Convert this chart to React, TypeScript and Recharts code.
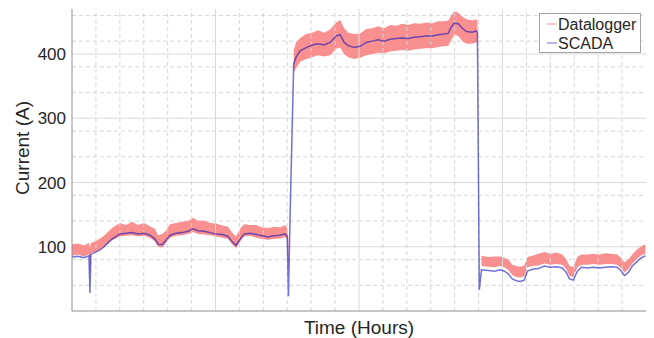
import React from 'react';
import { ComposedChart, Area, Line, XAxis, YAxis, CartesianGrid, ReferenceLine, Label } from 'recharts';

const FONT = '"Liberation Sans", Arial, Helvetica, sans-serif';

// time in hours
const hours = [
  0, 0.25, 0.5, 0.71, 0.75, 0.79, 1.0, 1.17, 1.34, 1.5,
  1.67, 1.84, 2.0, 2.26, 2.51, 2.76, 3.01, 3.26, 3.47, 3.6,
  3.77, 3.93, 4.1, 4.35, 4.6, 4.85, 5.06, 5.27, 5.52, 5.77,
  6.03, 6.28, 6.53, 6.69, 6.86, 7.03, 7.2, 7.45, 7.7, 7.95,
  8.2, 8.45, 8.7, 8.91, 9.0, 9.05, 9.12, 9.27, 9.37, 9.54,
  9.79, 10.04, 10.29, 10.54, 10.79, 11.05, 11.21, 11.38, 11.55, 11.8,
  12.05, 12.3, 12.55, 12.8, 13.05, 13.3, 13.56, 13.81, 14.06, 14.31,
  14.56, 14.81, 15.06, 15.31, 15.56, 15.73, 15.86, 15.98, 16.15, 16.32,
  16.49, 16.74, 16.9, 16.95, 17.03, 17.12, 17.41, 17.66, 17.91, 18.08,
  18.24, 18.41, 18.58, 18.74, 18.91, 19.04, 19.25, 19.5, 19.75, 20.0,
  20.25, 20.5, 20.67, 20.8, 20.96, 21.13, 21.3, 21.55, 21.8, 22.05,
  22.3, 22.55, 22.8, 22.97, 23.1, 23.26, 23.43, 23.6, 23.77, 23.97,
];

// SCADA current (A)
const scada = [
  84, 85, 83, 86, 28, 88, 92, 95, 100, 106,
  112, 116, 120, 121, 122, 120, 121, 118, 112, 104,
  103, 110, 118, 121, 122, 124, 128, 125, 124, 122,
  120, 119, 116, 108, 102, 112, 120, 121, 119, 117,
  115, 117, 118, 120, 116, 23, 150, 385, 395, 405,
  410, 414, 416, 414, 418, 428, 430, 418, 413, 410,
  412, 418, 420, 422, 420, 423, 424, 425, 424, 426,
  427, 428, 428, 430, 431, 432, 442, 448, 447, 440,
  435, 434, 436, 434, 33, 64, 63, 62, 64, 62,
  58, 50, 47, 46, 48, 62, 65, 66, 70, 68,
  69, 67, 60, 50, 48, 62, 68, 67, 68, 67,
  68, 69, 68, 62, 55, 60, 70, 76, 82, 86,
];

// Datalogger envelope (min / max of the fast samples)
const dlLow = [
  86, 88, 85, 88, 50, 90, 93, 96, 100, 105,
  110, 113, 116, 117, 118, 116, 117, 114, 108, 100,
  99, 106, 114, 117, 118, 120, 123, 120, 119, 118,
  116, 114, 112, 104, 98, 108, 116, 117, 114, 112,
  111, 112, 113, 115, 110, 60, null, 372, 378, 388,
  392, 395, 398, 396, 398, 408, 410, 400, 395, 392,
  394, 398, 400, 402, 401, 404, 405, 406, 405, 407,
  408, 409, 409, 411, 412, 413, 422, 430, 428, 420,
  416, 416, 418, 418, null, 70, 69, 68, 70, 68,
  64, 56, 53, 52, 54, 68, 70, 71, 74, 72,
  73, 72, 65, 55, 53, 68, 72, 72, 73, 72,
  73, 73, 72, 66, 60, 65, 74, 80, 86, 89,
];

const dlHigh = [
  104, 105, 102, 106, 98, 106, 109, 113, 117, 123,
  129, 133, 137, 134, 139, 134, 137, 132, 128, 118,
  120, 125, 135, 137, 139, 140, 145, 140, 141, 137,
  136, 133, 131, 122, 116, 128, 135, 134, 134, 130,
  129, 131, 130, 134, 128, 112, null, 406, 418, 425,
  431, 433, 437, 433, 438, 449, 453, 440, 433, 431,
  432, 439, 440, 443, 440, 445, 444, 447, 445, 448,
  447, 449, 448, 451, 451, 452, 460, 466, 464, 458,
  454, 452, 454, 452, null, 86, 84, 85, 85, 83,
  80, 72, 70, 69, 71, 84, 86, 89, 92, 89,
  91, 88, 80, 70, 69, 84, 88, 88, 89, 88,
  90, 89, 88, 82, 76, 80, 88, 95, 100, 104,
];

const yTicks = [100, 200, 300, 400];
const yMinor = [20, 40, 60, 80, 120, 140, 160, 180, 220, 240, 260, 280, 320, 340, 360, 380, 420, 440, 460];
const xMajor = [6, 12, 18];
const xMinor = [1, 2, 3, 4, 5, 7, 8, 9, 10, 11, 13, 14, 15, 16, 17, 19, 20, 21, 22, 23];

const seriesNames = ['Datalogger', 'SCADA'];

const BAND = '#f98686';
const SCADA_COLOR = '#1414be';

export default function App() {
  const data = hours.map((h, i) => ({
    h,
    scada: scada[i],
    band: dlLow[i] == null ? null : [dlLow[i], dlHigh[i]],
  }));

  return (
    <div style={{ position: 'absolute', left: 0, top: 0, width: 654, height: 338, background: '#fff', fontFamily: FONT }}>
      <ComposedChart width={654} height={338} data={data} margin={{ top: 9, right: 8, bottom: 0, left: 0 }}>
        <CartesianGrid
          horizontalValues={yMinor}
          vertical={false}
          stroke="#d6d6d6"
          strokeDasharray="4 3"
          fill="none"
        />
        <CartesianGrid
          horizontalValues={yTicks}
          vertical={false}
          stroke="#dadada"
          fill="none"
        />
        {xMinor.map((v) => (
          <ReferenceLine key={'xm' + v} x={v} stroke="#d6d6d6" strokeDasharray="4 3" />
        ))}
        {xMajor.map((v) => (
          <ReferenceLine key={'xM' + v} x={v} stroke="#dadada" />
        ))}
        <XAxis
          type="number"
          dataKey="h"
          domain={[0, 24]}
          ticks={xMajor}
          tick={false}
          tickLine={false}
          height={27}
          axisLine={{ stroke: '#8f8f8f' }}
        >
          <Label
            content={(p: any) => {
              const vb = p.viewBox;
              return (
                <text x={vb.x + vb.width / 2} y={vb.y + 23} textAnchor="middle" fontSize={19} fill="#262626" fontFamily={FONT}>
                  Time (Hours)
                </text>
              );
            }}
          />
        </XAxis>
        <YAxis
          type="number"
          domain={[0, 470]}
          ticks={yTicks}
          width={72}
          tickLine={false}
          tickSize={0}
          tickMargin={6}
          axisLine={{ stroke: '#8f8f8f' }}
          tick={{ fontSize: 17, fill: '#262626', fontFamily: FONT }}
        >
          <Label
            content={(p: any) => {
              const vb = p.viewBox;
              const cx = vb.x + 22;
              const cy = vb.y + vb.height / 2 - 12;
              return (
                <text x={cx} y={cy} transform={`rotate(-90 ${cx} ${cy})`} textAnchor="middle" dominantBaseline="central" fontSize={19} fill="#262626" fontFamily={FONT}>
                  Current (A)
                </text>
              );
            }}
          />
        </YAxis>
        <Area
          type="linear"
          dataKey="band"
          name={seriesNames[0]}
          stroke="none"
          fill={BAND}
          fillOpacity={0.92}
          isAnimationActive={false}
          connectNulls={false}
        />
        <Line
          type="linear"
          dataKey="scada"
          name={seriesNames[1]}
          stroke={SCADA_COLOR}
          strokeOpacity={0.6}
          strokeWidth={1.5}
          dot={false}
          isAnimationActive={false}
        />
      </ComposedChart>
      <div
        style={{
          position: 'absolute',
          left: 539,
          top: 13,
          width: 100,
          height: 38,
          border: '1px solid #a3a3a3',
          background: '#fff',
          fontSize: 16,
          color: '#262626',
          lineHeight: '19px',
        }}
      >
        {seriesNames.map((n, i) => (
          <div key={n} style={{ display: 'flex', alignItems: 'center', height: 19 }}>
            <svg width={18} height={19} style={{ display: 'block' }}>
              <line x1={7} x2={17} y1={10} y2={10} stroke={i === 0 ? '#f7a3a3' : '#8a80d6'} strokeWidth={1.2} />
            </svg>
            <span style={{ paddingTop: 1 }}>{n}</span>
          </div>
        ))}
      </div>
    </div>
  );
}
